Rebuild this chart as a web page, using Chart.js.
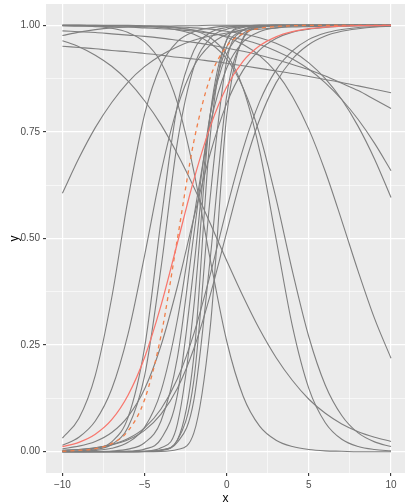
<!DOCTYPE html>
<html>
<head>
<meta charset="utf-8">
<script src="https://cdn.jsdelivr.net/npm/chart.js@4.4.0/dist/chart.umd.min.js"></script>
<style>
    html, body { margin: 0; padding: 0; background: #ffffff; overflow: hidden; }
</style>
</head>
<body>
<canvas id="curves-chart" width="405" height="503"></canvas>
<script>
var xs = [-10, -9, -8, -7, -6, -5, -4, -3, -2, -1, 0, 1, 2, 3, 4, 5, 6, 7, 8, 9, 10];

var xMajor = [-10, -5, 0, 5, 10];
var xMinor = [-7.5, -2.5, 2.5, 7.5];
var yMajor = [0, 0.25, 0.5, 0.75, 1];
var yMinor = [0.125, 0.375, 0.625, 0.875];

// highlighted curves
var redSolid  = [0.012, 0.022, 0.041, 0.075, 0.133, 0.221, 0.343, 0.490, 0.638, 0.763, 0.856, 0.916, 0.952, 0.973, 0.985, 0.992, 0.996, 0.998, 0.999, 0.999, 1];
var redDashed = [0.001, 0.003, 0.007, 0.019, 0.049, 0.122, 0.272, 0.500, 0.728, 0.878, 0.951, 0.981, 0.993, 0.997, 0.999, 1, 1, 1, 1, 1, 1];

// rising grey curves
var greyA = [0.606, 0.688, 0.760, 0.819, 0.867, 0.903, 0.930, 0.950, 0.965, 0.975, 0.982, 0.988, 0.991, 0.994, 0.996, 0.997, 0.998, 0.998, 0.999, 0.999, 0.999];
var greyB = [0.032, 0.078, 0.179, 0.361, 0.594, 0.791, 0.907, 0.962, 0.985, 0.994, 0.998, 0.999, 1, 1, 1, 1, 1, 1, 1, 1, 1];
var greyC = [0.015, 0.034, 0.072, 0.147, 0.277, 0.460, 0.655, 0.808, 0.904, 0.954, 0.979, 0.990, 0.996, 0.998, 0.999, 0.999, 1, 1, 1, 1, 1];
var greyD = [0.0005, 0.002, 0.007, 0.023, 0.081, 0.244, 0.542, 0.813, 0.941, 0.983, 0.995, 0.999, 1, 1, 1, 1, 1, 1, 1, 1, 1];
var greyE = [0.0004, 0.0015, 0.005, 0.017, 0.058, 0.178, 0.431, 0.726, 0.902, 0.970, 0.991, 0.997, 0.999, 1, 1, 1, 1, 1, 1, 1, 1];
var greyF = [0.007, 0.013, 0.024, 0.045, 0.083, 0.147, 0.249, 0.388, 0.549, 0.700, 0.817, 0.895, 0.942, 0.969, 0.984, 0.991, 0.995, 0.998, 0.999, 0.999, 1];
var greyG = [0.0004, 0.001, 0.003, 0.008, 0.022, 0.057, 0.142, 0.310, 0.550, 0.769, 0.900, 0.961, 0.985, 0.994, 0.998, 0.999, 1, 1, 1, 1, 1];
var greyH = [0, 0.0001, 0.0004, 0.0016, 0.006, 0.021, 0.072, 0.221, 0.510, 0.792, 0.933, 0.981, 0.995, 0.999, 1, 1, 1, 1, 1, 1, 1];
var greyI = [0, 0, 0.0001, 0.0003, 0.0013, 0.006, 0.030, 0.134, 0.433, 0.791, 0.949, 0.989, 0.998, 1, 1, 1, 1, 1, 1, 1, 1];
var greyJ = [0, 0, 0, 0, 0.0002, 0.0013, 0.009, 0.065, 0.341, 0.792, 0.966, 0.995, 0.999, 1, 1, 1, 1, 1, 1, 1, 1];
var greyK = [0, 0, 0, 0, 0, 0.0003, 0.003, 0.028, 0.224, 0.742, 0.966, 0.997, 1, 1, 1, 1, 1, 1, 1, 1, 1];
var greyL = [0, 0, 0, 0, 0, 0.0005, 0.004, 0.027, 0.168, 0.599, 0.917, 0.988, 0.998, 1, 1, 1, 1, 1, 1, 1, 1];
var greyM = [0, 0, 0, 0, 0.0001, 0.0006, 0.004, 0.022, 0.121, 0.455, 0.835, 0.968, 0.995, 0.999, 1, 1, 1, 1, 1, 1, 1];
var greyN = [0, 0, 0, 0, 0, 0.0001, 0.0006, 0.005, 0.044, 0.293, 0.789, 0.971, 0.997, 1, 1, 1, 1, 1, 1, 1, 1];
var greyO = [0.003, 0.005, 0.009, 0.017, 0.031, 0.056, 0.100, 0.171, 0.277, 0.416, 0.570, 0.711, 0.821, 0.895, 0.940, 0.967, 0.982, 0.990, 0.995, 0.997, 0.998];
var greyP = [0.003, 0.005, 0.009, 0.016, 0.028, 0.050, 0.088, 0.149, 0.242, 0.368, 0.515, 0.659, 0.779, 0.865, 0.921, 0.955, 0.975, 0.986, 0.992, 0.996, 0.998];
var greyQ = [0.976, 0.984, 0.990, 0.994, 0.996, 0.997, 0.998, 0.999, 0.999, 1, 1, 1, 1, 1, 1, 1, 1, 1, 1, 1, 1];

// falling grey curves
var greyR = [0.951, 0.948, 0.945, 0.941, 0.938, 0.934, 0.930, 0.925, 0.921, 0.916, 0.911, 0.905, 0.899, 0.893, 0.887, 0.880, 0.873, 0.866, 0.858, 0.850, 0.842];
var greyS = [0.987, 0.985, 0.983, 0.980, 0.977, 0.974, 0.970, 0.965, 0.960, 0.954, 0.947, 0.939, 0.930, 0.920, 0.908, 0.896, 0.881, 0.864, 0.847, 0.826, 0.805];
var greyT = [0.999, 0.998, 0.998, 0.997, 0.996, 0.994, 0.992, 0.990, 0.986, 0.981, 0.975, 0.966, 0.955, 0.940, 0.921, 0.897, 0.865, 0.826, 0.779, 0.723, 0.659];
var greyU = [1, 1, 0.999, 0.999, 0.999, 0.998, 0.997, 0.996, 0.994, 0.991, 0.986, 0.980, 0.971, 0.958, 0.939, 0.912, 0.875, 0.826, 0.763, 0.686, 0.596];
var greyV = [1, 1, 0.999, 0.999, 0.998, 0.997, 0.996, 0.993, 0.989, 0.982, 0.972, 0.955, 0.929, 0.890, 0.833, 0.756, 0.657, 0.542, 0.423, 0.312, 0.219];
var greyW = [0.964, 0.950, 0.930, 0.904, 0.869, 0.823, 0.767, 0.698, 0.620, 0.535, 0.448, 0.364, 0.287, 0.221, 0.167, 0.123, 0.090, 0.065, 0.047, 0.034, 0.024];
var greyX = [1, 1, 1, 1, 1, 0.999, 0.998, 0.995, 0.988, 0.971, 0.932, 0.852, 0.706, 0.500, 0.294, 0.148, 0.068, 0.029, 0.012, 0.005, 0.002];
var greyY = [1, 1, 1, 0.999, 0.999, 0.997, 0.995, 0.989, 0.979, 0.958, 0.921, 0.853, 0.745, 0.594, 0.423, 0.269, 0.156, 0.085, 0.044, 0.023, 0.012];
var greyZ = [0.999, 0.999, 0.997, 0.993, 0.983, 0.961, 0.913, 0.818, 0.657, 0.450, 0.259, 0.130, 0.060, 0.027, 0.012, 0.005, 0.002, 0.001, 0, 0, 0];

var greyCurves = [greyA, greyB, greyC, greyD, greyE, greyF, greyG, greyH, greyI, greyJ, greyK, greyL, greyM,
                  greyN, greyO, greyP, greyQ, greyR, greyS, greyT, greyU, greyV, greyW, greyX, greyY, greyZ];

var FONT = "'Liberation Sans', Arial, sans-serif";

var toPoints = function (values) {
    return values.map(function (v, i) { return { x: xs[i], y: v }; });
};

var lineSet = function (values, color, width, order) {
    return {
        data: toPoints(values),
        borderColor: color,
        borderWidth: width,
        pointRadius: 0,
        fill: false,
        cubicInterpolationMode: 'monotone',
        order: order
    };
};

var isMajor = function (ctx, majors) {
    return ctx.tick && majors.indexOf(ctx.tick.value) !== -1;
};

var formatX = function (v) {
    if (xMajor.indexOf(v) === -1) { return ''; }
    return v < 0 ? '\u2212' + Math.abs(v) : String(v);
};

var formatY = function (v) {
    return yMajor.indexOf(v) === -1 ? '' : v.toFixed(2);
};

var panelBackground = {
    id: 'panelBackground',
    beforeDraw: function (chart) {
        var a = chart.chartArea;
        var ctx = chart.ctx;
        ctx.save();
        ctx.fillStyle = '#EBEBEB';
        ctx.fillRect(a.left, a.top, a.right - a.left, a.bottom - a.top);
        ctx.restore();
    }
};

var datasets = [lineSet(redSolid, '#F8766D', 1.25, 0)];
var dashed = lineSet(redDashed, '#F07F4A', 1.3, 0);
dashed.borderDash = [4, 4];
datasets.push(dashed);
for (var i = 0; i < greyCurves.length; ++i) {
    datasets.push(lineSet(greyCurves[i], '#7F7F7F', 1.1, 1));
}

var ctx = document.getElementById('curves-chart');
var myChart = new Chart(ctx, {
    type: 'line',
    data: { datasets: datasets },
    plugins: [panelBackground],
    options: {
        responsive: false,
        animation: false,
        layout: { padding: { top: 4, right: 0, bottom: 0, left: 0 } },
        plugins: { legend: { display: false }, tooltip: { enabled: false } },
        scales: {
            x: {
                type: 'linear',
                min: -11,
                max: 10.85,
                afterBuildTicks: function (scale) {
                    scale.ticks = xMajor.concat(xMinor).sort(function (a, b) { return a - b; })
                        .map(function (v) { return { value: v }; });
                },
                afterFit: function (scale) {
                    scale.height = 30;
                    scale.paddingLeft = 0;
                    scale.paddingRight = 0;
                },
                border: { display: false },
                grid: {
                    color: '#FFFFFF',
                    lineWidth: function (c) { return isMajor(c, xMajor) ? 1.2 : 0.6; },
                    tickColor: function (c) { return isMajor(c, xMajor) ? '#333333' : 'rgba(0,0,0,0)'; },
                    tickWidth: 1.1,
                    tickLength: 3
                },
                ticks: {
                    autoSkip: false,
                    maxRotation: 0,
                    padding: 3,
                    color: '#4D4D4D',
                    font: { family: FONT, size: 10 },
                    callback: formatX
                },
                title: {
                    display: true,
                    text: 'x',
                    color: '#000000',
                    font: { family: FONT, size: 12, lineHeight: 1 },
                    padding: { top: 0, bottom: -2 }
                }
            },
            y: {
                type: 'linear',
                min: -0.05,
                max: 1.05,
                afterBuildTicks: function (scale) {
                    scale.ticks = yMajor.concat(yMinor).sort(function (a, b) { return a - b; })
                        .map(function (v) { return { value: v }; });
                },
                afterFit: function (scale) {
                    scale.width = 46;
                    scale.paddingTop = 0;
                    scale.paddingBottom = 0;
                },
                border: { display: false },
                grid: {
                    color: '#FFFFFF',
                    lineWidth: function (c) { return isMajor(c, yMajor) ? 1.2 : 0.6; },
                    tickColor: function (c) { return isMajor(c, yMajor) ? '#333333' : 'rgba(0,0,0,0)'; },
                    tickWidth: 1.1,
                    tickLength: 3
                },
                ticks: {
                    autoSkip: false,
                    padding: 3,
                    color: '#4D4D4D',
                    font: { family: FONT, size: 10 },
                    callback: formatY
                },
                title: {
                    display: true,
                    text: 'y',
                    color: '#000000',
                    font: { family: FONT, size: 12, lineHeight: 1 },
                    padding: { top: 9, bottom: 0 }
                }
            }
        }
    }
});
</script>
</body>
</html>
